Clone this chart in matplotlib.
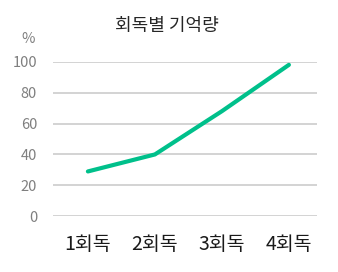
import matplotlib
matplotlib.use("Agg")
import matplotlib.pyplot as plt

plt.rcParams['font.family'] = ['Noto Sans CJK KR', 'DejaVu Sans']

# data
rounds = ['1회독', '2회독', '3회독', '4회독']
memory = [29, 40, 68, 98]
yticks = [0, 20, 40, 60, 80, 100]

fig = plt.figure(figsize=(3.38, 2.72), dpi=100)
ax = fig.add_axes([0.157, 0.205, 0.781, 0.568])

ax.plot(range(len(rounds)), memory, color='#00c08b', linewidth=3,
        solid_capstyle='round', solid_joinstyle='round', zorder=3)

ax.set_xlim(-0.52, len(rounds) - 0.58)
ax.set_ylim(0, 100)
ax.set_yticks(yticks)
ax.set_xticks(range(len(rounds)))
ax.set_xticklabels(rounds)
ax.yaxis.grid(True, color='#d0d0d0', linewidth=1.3)
ax.set_axisbelow(True)
for s in ax.spines.values():
    s.set_visible(False)
ax.tick_params(axis='y', length=0, pad=11.5, labelsize=10.5, labelcolor='#7f7f7f')
ax.tick_params(axis='x', length=0, pad=13, labelsize=14, labelcolor='#1a1a1a')

fig.text(0.494, 0.904, '회독별 기억량', ha='center', va='center',
         fontsize=13, color='#262626')
fig.text(0.104, 0.857, '%', ha='right', va='center', fontsize=10.5,
         color='#7f7f7f')

fig.savefig('out.png', dpi=100)
